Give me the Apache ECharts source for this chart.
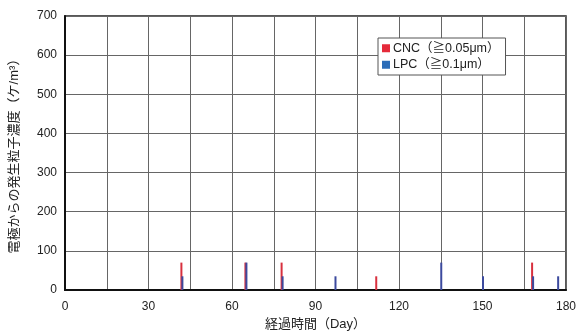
<!DOCTYPE html>
<html><head><meta charset="utf-8">
<script src="https://cdn.jsdelivr.net/npm/echarts@6/dist/echarts.min.js"></script>
<style>html,body{margin:0;padding:0;background:#fff}#c{width:578px;height:334px}</style>
</head><body><div id="c"></div>
<script>
var cncDays = [42, 65, 78, 112, 168];
var cncValues = [70, 70, 70, 35, 70];
var lpcDays = [42, 65, 78, 97, 135, 150, 168, 177];
var lpcValues = [35, 70, 35, 35, 70, 35, 35, 35];
var seriesNames = ['CNC（≧0.05μm）', 'LPC（≧0.1μm）'];
var xTickLabels = ['0', '30', '60', '90', '120', '150', '180'];

function pairs(d, v) { return d.map(function (x, i) { return [x, v[i]]; }); }

var chart = echarts.init(document.getElementById('c'));
chart.setOption({
  animation: false,
  textStyle: { fontFamily: 'Arial, "Liberation Sans", "Noto Sans CJK JP", sans-serif' },
  grid: { left: 65, right: 12, top: 16, bottom: 44, show: true, borderColor: '#222', borderWidth: 1.5,
    containLabel: false, outerBoundsMode: 'none' },
  legend: {
    left: 378, top: 38, orient: 'vertical', itemWidth: 8, itemHeight: 8, itemGap: 4,
    backgroundColor: '#fff', borderColor: '#555', borderWidth: 1, padding: [4, 6, 4, 4],
    icon: 'rect',
    textStyle: { fontSize: 12.5, color: '#222', padding: [0, 0, 0, -2] },
    data: [
      { name: seriesNames[0], itemStyle: { color: '#e52a3a' } },
      { name: seriesNames[1], itemStyle: { color: '#2a6cb8' } }
    ]
  },
  xAxis: {
    type: 'value', min: 0, max: 180, interval: 15,
    name: '経過時間（Day）', nameLocation: 'middle', nameGap: 28,
    nameTextStyle: { fontSize: 13, color: '#222' },
    axisLine: { show: true, lineStyle: { color: '#111', width: 2 } },
    axisTick: { show: false },
    axisLabel: { color: '#222', fontSize: 12, margin: 11,
      formatter: function (v) { return xTickLabels.indexOf(String(v)) >= 0 ? String(v) : ''; } },
    splitLine: { show: true, lineStyle: { color: '#666', width: 1 } }
  },
  yAxis: {
    type: 'value', min: 0, max: 700, interval: 100,
    name: '電極からの発生粒子濃度（ケ/m³）', nameLocation: 'middle', nameGap: 44,
    nameTextStyle: { fontSize: 13, color: '#222' },
    axisLine: { show: true, lineStyle: { color: '#111', width: 2 } },
    axisTick: { show: false },
    axisLabel: { color: '#222', fontSize: 12, margin: 8 },
    splitLine: { show: true, lineStyle: { color: '#666', width: 1 } }
  },
  series: [
    { name: seriesNames[0], type: 'bar', barWidth: 2, barGap: '-50%', data: pairs(cncDays, cncValues),
      itemStyle: { color: '#d8303e' } },
    { name: seriesNames[1], type: 'bar', barWidth: 2, barGap: '-50%', data: pairs(lpcDays, lpcValues),
      itemStyle: { color: '#3c4a9e' } }
  ]
});
</script></body></html>
